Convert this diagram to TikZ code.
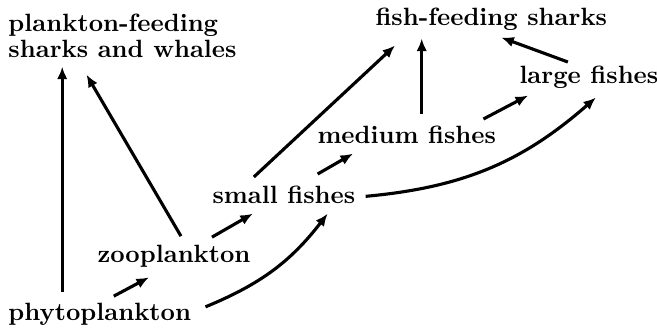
\documentclass[tikz,border=0pt]{standalone}
\usepackage{tikz}
\usetikzlibrary{arrows.meta,positioning}

\begin{document}
\begin{tikzpicture}[
    x=0.4pt, y=0.4pt,
    species/.style={font=\bfseries, inner sep=2pt, anchor=base west},
    arr/.style={-{Latex[length=5pt, width=4.2pt]}, line width=1.25pt},
]
\useasboundingbox (0,0) rectangle (657,329);

% Species
\node[species, anchor=north west, align=left] (pfs) at (3,321) {plankton-feeding\\[-1.6pt]sharks and whales};
\node[species] (ffs)    at (370,304) {fish-feeding sharks};
\node[species] (large)  at (514,246) {large fishes};
\node[species] (medium) at (312,186) {medium fishes};
\node[species] (small)  at (207,126) {small fishes};
\node[species] (zoo)    at (92,67)   {zooplankton};
\node[species] (phyto)  at (3,9)     {phytoplankton};

% Plankton links
\draw[arr, shorten <=2pt, shorten >=1.6pt]
    ([xshift=-15pt]phyto.north) -- ([xshift=-15pt]phyto.north |- pfs.south);
\draw[arr] ([shift={(7,3)}]zoo.north) -- ([shift={(-36,-12)}]pfs.south);
\draw[arr] ([shift={(14,1)}]phyto.north) -- ([shift={(-25,-5)}]zoo.south);
\draw[arr] ([shift={(-44,2)}]zoo.north east) -- ([shift={(-31,-5)}]small.south);
\draw[arr] ([shift={(9,7)}]phyto.east) to[bend right=15] ([shift={(-33,-5)}]small.south east);

% Fish links
\draw[arr] ([shift={(-30,3)}]small.north) -- ([shift={(25,-10)}]ffs.south west);
\draw[arr] ([shift={(-43,6)}]small.north east) -- ([shift={(41,-5)}]medium.south west);
\draw[arr, shorten <=2.4pt, shorten >=1.2pt]
    ([xshift=6pt]medium.north) -- ([xshift=6pt]medium.north |- ffs.south);
\draw[arr] ([shift={(-18,1)}]medium.north east) -- ([shift={(14,-2)}]large.south west);
\draw[arr] ([shift={(-21,-2)}]large.north) -- ([shift={(10,-2)}]ffs.south);
\draw[arr] ([shift={(5,-2)}]small.east) to[bend right=18] ([shift={(7,-4)}]large.south);

\end{tikzpicture}
\end{document}
